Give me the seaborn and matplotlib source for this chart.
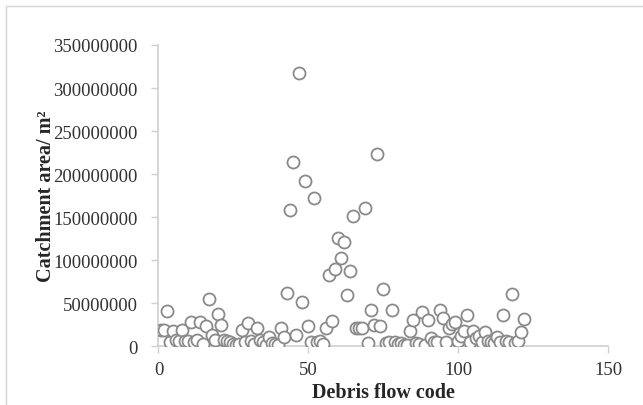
import matplotlib
matplotlib.use("Agg")
import matplotlib.pyplot as plt
from matplotlib.patches import Rectangle
from matplotlib.ticker import MultipleLocator, FuncFormatter
import seaborn as sns
import pandas as pd

# Debris flow codes and catchment areas (million m²)
codes = [1, 2, 3, 4, 5, 6, 7, 8, 9, 10, 11, 12, 13, 14, 15, 16, 17, 18, 19, 20,
         21, 22, 23, 24, 25, 26, 27, 28, 29, 30, 31, 32, 33, 34, 35, 36, 37, 38, 39, 40,
         41, 42, 43, 44, 45, 46, 47, 48, 49, 50, 51, 52, 53, 54, 55, 56, 57, 58, 59, 60,
         61, 62, 63, 64, 65, 66, 67, 68, 69, 70, 71, 72, 73, 74, 75, 76, 77, 78, 79, 80,
         81, 82, 83, 84, 85, 86, 87, 88, 89, 90, 91, 92, 93, 94, 95, 96, 97, 98, 99, 100,
         101, 102, 103, 104, 105, 106, 107, 108, 109, 110, 111, 112, 113, 114, 115, 116,
         117, 118, 119, 120, 121, 122]
area_million = [19, 19, 41, 4.3, 17, 7, 6, 19, 6, 5.5, 28, 4.3, 7, 28, 2, 23, 55, 13, 7, 37.6,
                25, 6.6, 5.8, 4.3, 2.3, 1.2, 2, 19, 4.3, 26.7, 5.5, 2.5, 21, 7.4, 4.3, 1.5, 11, 3, 2, 1,
                20.5, 11, 62, 158, 214, 13, 318, 51.5, 192, 23.6, 4.3, 172, 5, 5.8, 2, 20.5, 82.6, 29.4, 90, 126,
                102, 121, 59, 87, 151, 21, 21, 20.5, 160, 4, 42, 25, 223, 23.6, 66, 3.5, 4.3, 41.5, 4.3, 2.5,
                3, 1.5, 0.8, 17.8, 30, 3.5, 2, 40, 0.8, 30.6, 9, 4.3, 4.3, 42, 32.6, 4.3, 20.5, 25.6, 28, 5.8,
                12, 17.8, 36.4, 4.3, 17, 9, 12, 4.3, 16, 5.8, 4.3, 3.5, 11, 4.3, 36.4, 5.8,
                4.3, 61, 3.5, 5.8, 16, 31]

df = pd.DataFrame({"code": codes, "area": [v * 1e6 for v in area_million]})

sns.set_style("white")
plt.rcParams["font.family"] = ["Liberation Serif", "DejaVu Serif"]

fig = plt.figure(figsize=(6.43, 4.06), dpi=100)
ax = fig.add_axes([0.2465, 0.1453, 0.6995, 0.7414])

sns.scatterplot(data=df, x="code", y="area", ax=ax, s=75, marker="o",
                facecolor="white", edgecolor="#8a8a8a", linewidth=1.3, zorder=3)

ax.set_xlim(0, 150)
ax.set_ylim(0, 350000000)
ax.xaxis.set_major_locator(MultipleLocator(50))
ax.yaxis.set_major_locator(MultipleLocator(50000000))
ax.yaxis.set_major_formatter(FuncFormatter(lambda v, p: f"{int(round(v))}"))

for side in ("top", "right"):
    ax.spines[side].set_visible(False)
for side in ("left", "bottom"):
    ax.spines[side].set_color("#d0d0d0")
    ax.spines[side].set_linewidth(1.2)

ax.tick_params(axis="both", which="major", direction="out", length=5, width=1.0,
               color="#d0d0d0", labelsize=13.5, labelcolor="#333333",
               left=True, bottom=True)
ax.tick_params(axis="y", pad=10)
ax.tick_params(axis="x", pad=5.5)

ax.set_xlabel("Debris flow code", fontsize=14.5, fontweight="bold", labelpad=3)
ax.set_ylabel("Catchment area/ m²", fontsize=14.5, fontweight="bold", labelpad=-2)

# outer chart frame
fig.patches.append(Rectangle((6 / 643, -0.1), 1.2, 1.1 - 7 / 406,
                             transform=fig.transFigure, fill=False,
                             edgecolor="#d4d4d4", linewidth=1.0))

fig.savefig("out.png", dpi=100)
